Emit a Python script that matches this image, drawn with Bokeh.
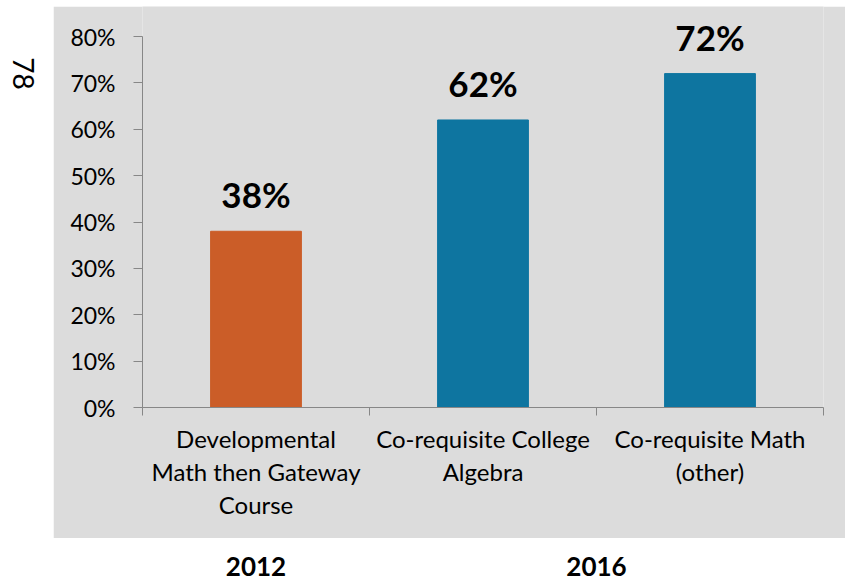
import math
from bokeh.plotting import figure
from bokeh.layouts import row, column
from bokeh.models import (Range1d, LinearAxis, FixedTicker, NumeralTickFormatter,
                          ColumnDataSource, Spacer)
from bokeh.core.properties import value
from bokeh.embed import file_html
from bokeh.resources import INLINE

# ---- data ----
categories = ["Developmental\nMath then Gateway\nCourse",
              "Co-requisite College\nAlgebra",
              "Co-requisite Math\n(other)"]
rates = [0.38, 0.62, 0.72]
rate_labels = ["38%", "62%", "72%"]
bar_colors = ["#CB5D28", "#0E75A0", "#0E75A0"]
y_ticks = [0, 0.1, 0.2, 0.3, 0.4, 0.5, 0.6, 0.7, 0.8]
year_labels = ["2012", "2016"]
year_groups = [[0], [1, 2]]   # category indices covered by each year
page_number = "78"

GRAY = "#DCDCDC"
AXIS = "#878787"
FONT = "Lato"

n = len(categories)
centers = [i + 0.5 for i in range(n)]
boundaries = [float(i) for i in range(n + 1)]
x_range = Range1d(0, n)

# ---- main gray chart ----
p = figure(width=792, height=532,
           x_range=x_range, y_range=Range1d(0, 0.8647),
           x_axis_location=None, y_axis_location=None,
           output_backend="svg", toolbar_location=None,
           min_border_left=89, min_border_right=22, min_border_top=0, min_border_bottom=131,
           background_fill_color=GRAY, border_fill_color=GRAY, outline_line_color=None)
p.xgrid.visible = False
p.ygrid.visible = False

src = ColumnDataSource(dict(x=centers, top=rates, label=rate_labels, color=bar_colors))
p.vbar(x="x", top="top", width=0.4, color="color", source=src)
p.text(x="x", y="top", text="label", source=src, y_offset=-37,
       text_align="center", text_baseline="alphabetic",
       text_font=value(FONT), text_font_style="bold", text_font_size="35px",
       text_color="black")

yaxis = LinearAxis(ticker=FixedTicker(ticks=y_ticks),
                   formatter=NumeralTickFormatter(format="0%"),
                   bounds=(0, 0.8),
                   axis_line_color=AXIS, major_tick_line_color=AXIS,
                   minor_tick_line_color=None,
                   major_tick_out=9, major_tick_in=0,
                   major_label_standoff=18,
                   major_label_text_font=FONT, major_label_text_font_size="23px",
                   major_label_text_color="black")
p.add_layout(yaxis, "left")

tick_axis = LinearAxis(ticker=FixedTicker(ticks=boundaries),
                       axis_line_color=AXIS, major_tick_line_color=AXIS,
                       minor_tick_line_color=None,
                       major_tick_out=8, major_tick_in=0,
                       major_label_text_font_size="0px", major_label_standoff=0,
                       major_label_text_alpha=0)
p.add_layout(tick_axis, "below")

cat_axis = LinearAxis(ticker=FixedTicker(ticks=centers),
                      major_label_overrides={c: name for c, name in zip(centers, categories)},
                      axis_line_color=None, major_tick_line_color=None,
                      minor_tick_line_color=None,
                      major_tick_out=0, major_tick_in=0,
                      major_label_standoff=8,
                      major_label_text_font=FONT, major_label_text_font_size="24px",
                      major_label_text_color="black",
                      major_label_text_line_height=1.15)
p.add_layout(cat_axis, "below")

# ---- year labels strip (white, below the gray panel) ----
yb = figure(width=792, height=44, x_range=x_range, y_range=Range1d(44, 0),
            x_axis_location=None, y_axis_location=None,
            output_backend="svg", toolbar_location=None,
            min_border_left=89, min_border_right=22, min_border_top=0, min_border_bottom=0,
            background_fill_color="white", border_fill_color="white", outline_line_color=None)
yb.xgrid.visible = False
yb.ygrid.visible = False
year_x = [(min(g) + max(g) + 1) / 2 for g in year_groups]
yb.text(x=year_x, y=[28, 28], text=year_labels, text_align="center",
        text_baseline="middle", text_font=value(FONT), text_font_style="bold",
        text_font_size="26px", text_color="black")

# ---- left white strip with page number ----
lf = figure(width=53, height=582, x_range=Range1d(0, 53), y_range=Range1d(582, 0),
            x_axis_location=None, y_axis_location=None,
            output_backend="svg", toolbar_location=None,
            min_border_left=0, min_border_right=0, min_border_top=0, min_border_bottom=0,
            background_fill_color="white", border_fill_color="white", outline_line_color=None)
lf.xgrid.visible = False
lf.ygrid.visible = False
lf.text(x=[22.5], y=[73], text=[page_number], angle=-math.pi / 2,
        text_align="center", text_baseline="middle",
        text_font=value(FONT), text_font_size="28px", text_color="black")

layout = row(lf, column(Spacer(width=792, height=6), p, yb, spacing=0), spacing=0)

open("out.html", "w").write(file_html(layout, INLINE))
